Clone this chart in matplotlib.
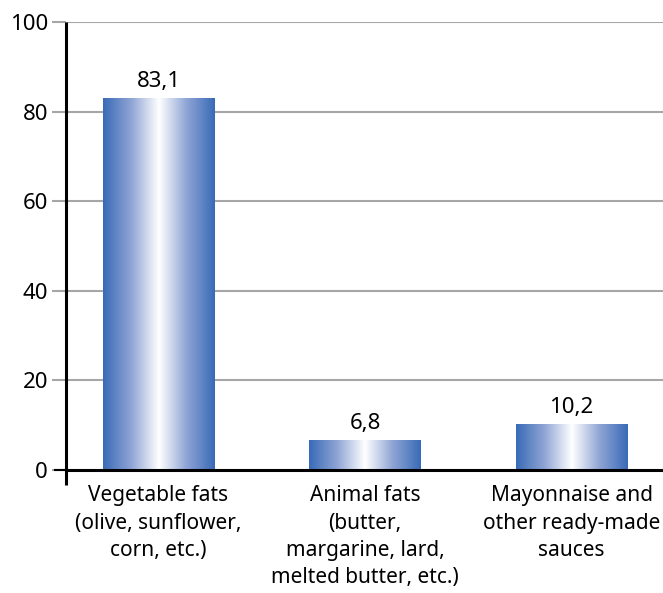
import matplotlib
matplotlib.use("Agg")
import matplotlib.pyplot as plt
import numpy as np
from matplotlib.colors import LinearSegmentedColormap

categories = [
    "Vegetable fats\n(olive, sunflower,\ncorn, etc.)",
    "Animal fats\n(butter,\nmargarine, lard,\nmelted butter, etc.)",
    "Mayonnaise and\nother ready-made\nsauces",
]
values = [83.1, 6.8, 10.2]
value_labels = ["83,1", "6,8", "10,2"]
yticks = [0, 20, 40, 60, 80, 100]

plt.rcParams["font.family"] = ["Noto Sans", "DejaVu Sans"]

fig = plt.figure(figsize=(6.63, 5.93), dpi=100)
ax = fig.add_axes([0.0995, 0.2074, 0.9005, 0.7556])

x = np.arange(len(values))
ax.set_xlim(-0.448, 2.443)
ax.set_ylim(0, 100)

# gradient fill: blue at the edges, white in the middle
cmap = LinearSegmentedColormap.from_list(
    "bar", ["#3a6bb7", "#8ea4d4", "#ffffff", "#8ea4d4", "#3a6bb7"])
grad = np.linspace(0, 1, 256).reshape(1, -1)

bars = ax.bar(x, values, width=0.54, color="none", edgecolor="none", zorder=3)
for b, lab in zip(bars, value_labels):
    x0, w, h = b.get_x(), b.get_width(), b.get_height()
    im = ax.imshow(grad, cmap=cmap, aspect="auto",
                   extent=[x0, x0 + w, 0, h], zorder=3)
    im.set_clip_path(b)
    ax.text(x0 + w / 2, h + 1.3, lab, ha="center", va="bottom",
            fontsize=16, color="black", zorder=4)

# horizontal grid lines
for t in yticks[1:]:
    ax.axhline(t, color="#a6a6a6", lw=1.5, zorder=1)

ax.set_yticks(yticks)
ax.set_yticklabels([str(t) for t in yticks], fontsize=16)
ax.tick_params(axis="y", length=10, width=1.5, color="#a6a6a6", pad=3)
ax.set_xticks(x)
ax.set_xticklabels(categories, fontsize=15, linespacing=1.4)
ax.tick_params(axis="x", length=0, pad=11)

for s in ("top", "right", "left"):
    ax.spines[s].set_visible(False)
ax.spines["bottom"].set_linewidth(2.2)
ax.spines["bottom"].set_zorder(5)

# left axis line, running a little below zero
ax.plot([-0.448, -0.448], [-3.4, 100], color="black", lw=2.2,
        clip_on=False, zorder=6, solid_capstyle="butt")
ax.plot([-0.50, -0.448], [0, 0], color="black", lw=1.5,
        clip_on=False, zorder=6)

fig.savefig("out.png", dpi=100)
